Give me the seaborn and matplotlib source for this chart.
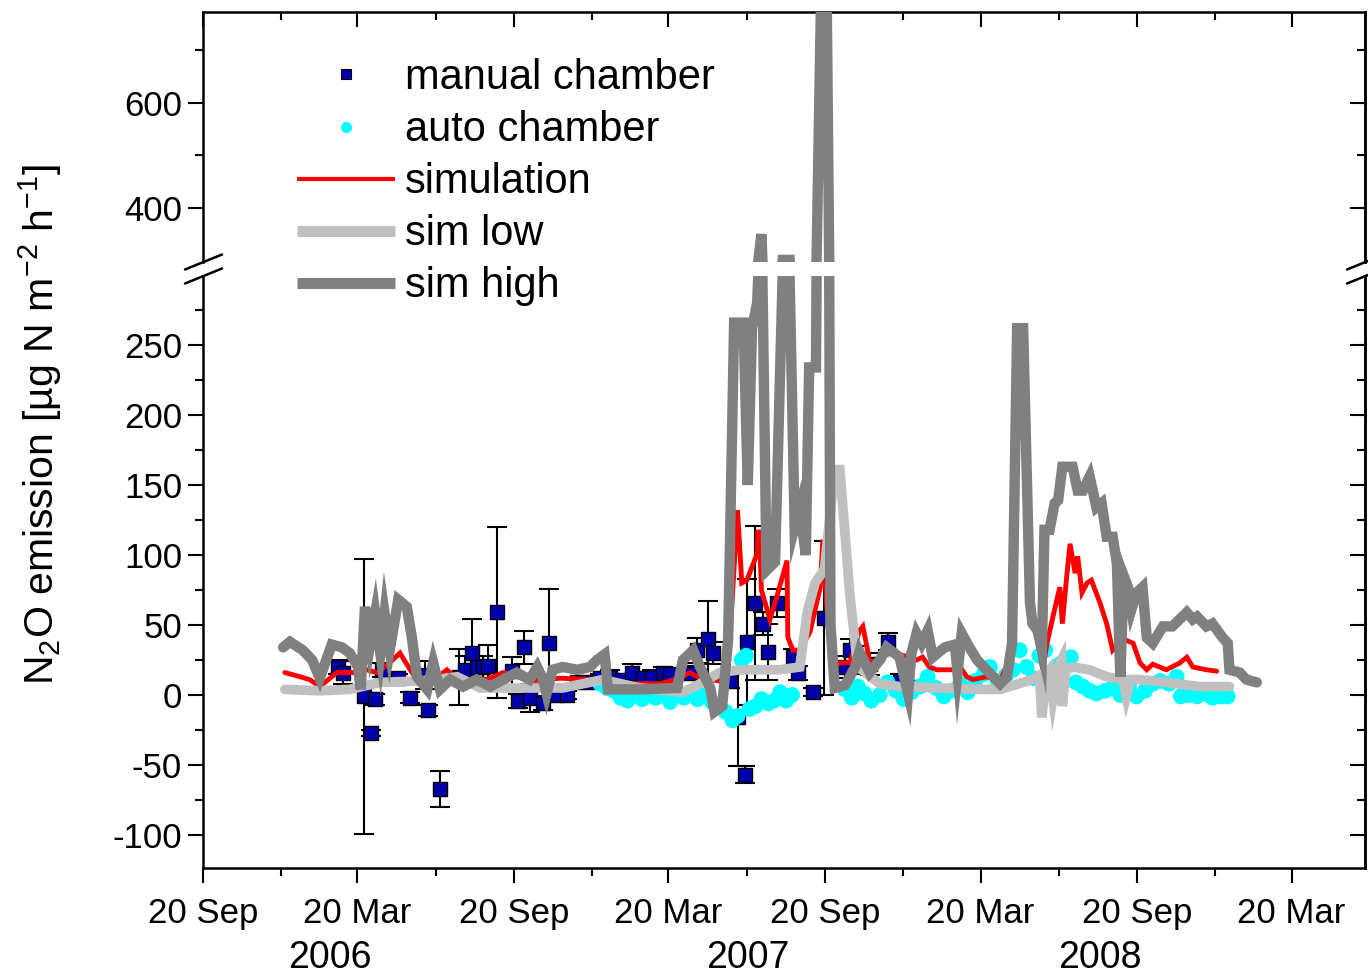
import numpy as np
import pandas as pd
import matplotlib
matplotlib.use("Agg")
import matplotlib.pyplot as plt
from matplotlib.lines import Line2D
from matplotlib.ticker import FixedLocator
import matplotlib.dates as mdates
import seaborn as sns

# ---------------- data ----------------
manual_dates = ["2006-02-25", "2006-03-03", "2006-03-28", "2006-04-05", "2006-04-10", "2006-04-18",
                "2006-05-07", "2006-05-21", "2006-06-07", "2006-06-11", "2006-06-25", "2006-07-17",
                "2006-07-24", "2006-08-01", "2006-08-07", "2006-08-14", "2006-08-20", "2006-08-31",
                "2006-09-17", "2006-09-24", "2006-10-01", "2006-10-08", "2006-10-24", "2006-10-31",
                "2006-11-09", "2006-11-21", "2006-12-03", "2006-12-18", "2006-12-30", "2007-01-10",
                "2007-01-25", "2007-02-05", "2007-02-18", "2007-03-01", "2007-03-13", "2007-03-22",
                "2007-04-14", "2007-04-23", "2007-05-05", "2007-05-11", "2007-05-31", "2007-06-09",
                "2007-06-18", "2007-06-20", "2007-06-29", "2007-07-09", "2007-07-15", "2007-07-25",
                "2007-08-13", "2007-08-19", "2007-09-05", "2007-09-18", "2007-10-13", "2007-10-19",
                "2007-10-30", "2007-11-11", "2007-12-02", "2007-12-16", "2007-12-28"]
manual_vals = [20, 16, -1, -27, -3, 18, 12, -2, 14, -11, -67, 13, 18, 30, 20, 20, 21, 59,
               17, -4, 34, -2, -6, 37, 0, 0, 9, 9, 12, 13, 11, 16, 12, 13, 16, 15,
               16, 32, 40, 30, 10, -16, -57, 38, 66, 51, 31, 66, 27, 16, 2, 55, 20, 32,
               25, 22, 38, 10, 6]
manual_err = [5, 8, 98, 2, 4, 5, 3, 4, 10, 4, 13, 20, 10, 24, 5, 8, 15, 61,
              10, 5, 12, 10, 5, 39, 3, 3, 3, 4, 3, 5, 4, 6, 4, 5, 4, 3,
              5, 9, 27, 8, 5, 35, 6, 45, 55, 8, 20, 10, 6, 5, 3, 55, 8, 8,
              10, 8, 6, 5, 3]

auto_dates = ["2006-12-30", "2007-01-07", "2007-01-15", "2007-01-23", "2007-01-31", "2007-02-09",
              "2007-02-17", "2007-02-25", "2007-03-05", "2007-03-13", "2007-03-22", "2007-03-30",
              "2007-04-07",
              "2007-04-15", "2007-04-23", "2007-05-02", "2007-05-10", "2007-05-18", "2007-05-26",
              "2007-06-03", "2007-06-09", "2007-06-14", "2007-06-19", "2007-06-23", "2007-06-30",
              "2007-07-07", "2007-07-15", "2007-07-22", "2007-07-29", "2007-08-05", "2007-08-12",
              "2007-10-13", "2007-10-21", "2007-10-28", "2007-11-05", "2007-11-13", "2007-11-23",
              "2007-12-02", "2007-12-12", "2007-12-21", "2007-12-30", "2008-01-09", "2008-01-18",
              "2008-01-28", "2008-02-06", "2008-02-15", "2008-02-25", "2008-03-05", "2008-03-14",
              "2008-03-24", "2008-03-31", "2008-04-09", "2008-04-19", "2008-04-27", "2008-05-05",
              "2008-05-13", "2008-05-21", "2008-05-28", "2008-06-04", "2008-06-13", "2008-06-21",
              "2008-06-28", "2008-07-04", "2008-07-10", "2008-07-18", "2008-07-26", "2008-08-03",
              "2008-08-13", "2008-08-22", "2008-08-31", "2008-09-10", "2008-09-19", "2008-09-29",
              "2008-10-08", "2008-10-17", "2008-10-27", "2008-11-05", "2008-11-10", "2008-11-19",
              "2008-11-29", "2008-12-08", "2008-12-17", "2008-12-27", "2009-01-04"]
auto_vals = [8, 5, 3, -2, -4, 0, -3, 2, -2, 0, -5, 3, -2,
             2, -3, 0, -5, -8, -12, -18, -15, 25, 28, -10, -8, -3, -6, -4, 2, -4, 0,
             4, -2, 6, 1, -4, 0, 9, 3, -3, 2, 6, 13, 5, -1, 3, 8, 2, 10, 15, 20, 10, 14,
             18, 32, 20, 12, 28, 32, 15, 22, 25, 27, 9, 6, 3, 1, 3, 5, 0, 6, -1, 3, 8,
             10, 8, 13, -1, 0, -1, 1, -2, -1, -1]

sim_dates = ["2005-12-25", "2006-01-12", "2006-01-23", "2006-02-04", "2006-02-24", "2006-03-20",
             "2006-03-31", "2006-04-12", "2006-04-27", "2006-05-09", "2006-05-21", "2006-05-29",
             "2006-06-13", "2006-07-03", "2006-07-18", "2006-08-11", "2006-09-07", "2006-09-15",
             "2006-10-08", "2006-11-13", "2006-12-18", "2007-01-22", "2007-03-10", "2007-04-02",
             "2007-04-14", "2007-04-26", "2007-05-19", "2007-05-31", "2007-06-09", "2007-06-14",
             "2007-06-20", "2007-07-02", "2007-07-03", "2007-07-05", "2007-07-07", "2007-07-17",
             "2007-07-25", "2007-08-06", "2007-08-07", "2007-08-13", "2007-08-21", "2007-09-02",
             "2007-09-14", "2007-09-17", "2007-09-22", "2007-09-29", "2007-10-07", "2007-10-19",
             "2007-10-30", "2007-11-03", "2007-11-08", "2007-11-11", "2007-11-19", "2007-12-05",
             "2007-12-22", "2008-01-05", "2008-01-12", "2008-01-20", "2008-01-29", "2008-02-16",
             "2008-02-25", "2008-03-04", "2008-03-11", "2008-03-27", "2008-04-12", "2008-04-26",
             "2008-05-02", "2008-05-09", "2008-05-17", "2008-05-26", "2008-06-01", "2008-06-06",
             "2008-06-13", "2008-06-21", "2008-06-24", "2008-06-29", "2008-07-03", "2008-07-09",
             "2008-07-12", "2008-07-17", "2008-07-23", "2008-07-28", "2008-08-07", "2008-08-15",
             "2008-08-22", "2008-08-30", "2008-09-07", "2008-09-15", "2008-09-23", "2008-10-01",
             "2008-10-08", "2008-10-24", "2008-11-09", "2008-11-17", "2008-11-24", "2008-12-10",
             "2008-12-22"]
sim_vals = [16, 13, 11, 6, 16, 16, 18, 16, 23, 30, 18, 11, 8, 18, 10, 9, 16, 15,
            10, 12, 11, 8, 8, 12, 16, 12, 10, 40, 132, 80, 82, 101, 118, 111, 75, 54,
            70, 96, 41, 32, 32, 45, 77, 111, 60, 20, 23, 23, 46, 49, 34, 23, 25, 30,
            28, 25, 27, 20, 18, 18, 20, 13, 11, 13, 10, 30, 263, 263, 55, 40, 18, 37,
            56, 77, 51, 84, 108, 87, 99, 73, 80, 82, 66, 51, 32, 37, 39, 37, 23, 18,
            22, 18, 23, 27, 20, 18, 17]

low_dates = ["2005-12-25", "2006-02-04", "2006-03-11", "2006-04-16", "2006-06-01", "2006-06-21",
             "2006-07-15", "2006-08-11", "2006-09-27", "2006-11-16", "2007-01-02", "2007-02-14",
             "2007-04-06", "2007-04-26", "2007-05-19", "2007-06-12", "2007-07-29", "2007-08-21",
             "2007-08-30", "2007-09-08", "2007-09-19", "2007-10-01", "2007-10-07", "2007-10-19",
             "2007-10-28", "2007-11-23", "2007-12-16", "2008-02-01", "2008-03-19", "2008-04-12",
             "2008-05-20", "2008-05-28", "2008-05-31", "2008-06-05", "2008-06-09", "2008-06-13",
             "2008-06-19", "2008-06-23", "2008-06-24", "2008-06-28", "2008-07-06", "2008-07-26",
             "2008-08-15", "2008-09-03", "2008-09-07", "2008-09-12", "2008-09-23", "2008-10-24",
             "2008-12-02", "2009-01-06"]
low_vals = [4, 3, 4, 9, 10, 11, 13, 5, 5, 5, 11, 5, 2, 8, 16, 18, 18, 20, 60, 80, 90, 161, 161,
            70, 20, 8, 6, 5, 4, 4, 11, 14, -16, 15, 18, -2, 20, 25, -8, 18, 20, 18, 13, 11, -1,
            11, 11, 9, 6, 6]

high_dates = ["2005-12-23", "2005-12-31", "2006-01-15", "2006-01-26", "2006-02-04", "2006-02-18",
              "2006-03-02", "2006-03-11", "2006-03-21", "2006-03-24", "2006-03-29", "2006-04-04",
              "2006-04-10", "2006-04-16", "2006-04-21", "2006-04-27", "2006-05-07", "2006-05-17",
              "2006-05-23", "2006-05-29", "2006-06-10", "2006-06-17", "2006-06-25", "2006-07-07",
              "2006-07-22", "2006-08-07", "2006-08-23", "2006-09-07", "2006-09-23", "2006-10-08",
              "2006-10-17", "2006-10-24", "2006-10-28", "2006-11-04", "2006-11-16", "2006-12-03",
              "2006-12-18", "2006-12-26", "2007-01-04", "2007-01-08", "2007-02-14", "2007-03-30",
              "2007-04-06", "2007-04-18", "2007-04-26", "2007-05-08", "2007-05-13", "2007-05-22",
              "2007-05-29", "2007-06-05", "2007-06-16", "2007-06-21", "2007-06-26", "2007-07-02",
              "2007-07-07", "2007-07-13", "2007-07-23", "2007-08-01", "2007-08-09", "2007-08-15",
              "2007-08-21", "2007-08-28", "2007-09-01", "2007-09-09", "2007-09-16", "2007-09-21",
              "2007-09-26", "2007-10-01", "2007-10-13", "2007-10-15", "2007-10-25", "2007-10-30",
              "2007-11-11", "2007-11-23", "2007-12-01", "2007-12-16", "2007-12-26", "2007-12-30",
              "2008-01-05", "2008-01-11", "2008-01-18", "2008-01-24", "2008-02-07", "2008-02-19",
              "2008-02-22", "2008-02-27", "2008-03-07", "2008-03-16", "2008-03-27", "2008-04-12",
              "2008-04-20", "2008-04-26", "2008-05-02", "2008-05-09", "2008-05-17", "2008-05-20",
              "2008-05-26", "2008-05-31", "2008-06-03", "2008-06-09", "2008-06-15", "2008-06-19",
              "2008-06-24", "2008-07-06", "2008-07-12", "2008-07-18", "2008-07-26", "2008-08-03",
              "2008-08-09", "2008-08-15", "2008-08-22", "2008-08-27", "2008-08-31", "2008-09-04",
              "2008-09-09", "2008-09-13", "2008-09-19", "2008-09-26", "2008-10-01", "2008-10-08",
              "2008-10-20", "2008-10-31", "2008-11-17", "2008-11-24", "2008-11-29", "2008-12-10",
              "2008-12-17", "2008-12-29", "2009-01-04", "2009-01-06", "2009-01-18", "2009-01-26",
              "2009-02-07"]
high_vals = [34, 38, 32, 25, 12, 36, 34, 30, 20, 4, 63, 36, 58, 30, 58, 32, 68, 63, 41, 13,
             4, 23, 4, 11, 6, 11, 6, 11, 16, 11, 20, 11, 1, 18, 20, 18, 20, 25, 29, 4, 4, 5,
             25, 32, 20, 5, -12, -8, 40, 266, 266, 150, 262, 280, 350, 89, 95, 301, 301, 120,
             134, 100, 234, 234, 900, 900, 50, 5, 7, 9, 20, 31, 16, 25, 34, 27, 1, 30, 44, 37,
             46, 27, 34, 36, 16, 44, 34, 25, 18, 8, 13, 37, 262, 262, 66, 51, 46, 32, 118, 118,
             137, 139, 163, 163, 146, 146, 156, 134, 137, 113, 113, 94, 13, 85, 77, 61, 73, 77,
             41, 37, 49, 49, 59, 54, 56, 49, 51, 41, 37, 18, 16, 11, 9]

major_dates = ["2005-09-20", "2006-03-20", "2006-09-20", "2007-03-20", "2007-09-20",
               "2008-03-20", "2008-09-20", "2009-03-20"]
minor_dates = ["2005-12-20", "2006-06-20", "2006-12-20", "2007-06-20", "2007-12-20",
               "2008-06-20", "2008-12-20"]
year_labels = ["2006", "2007", "2008"]
year_pos = ["2006-02-16", "2007-06-21", "2008-08-07"]

# ---------------- style ----------------
sns.set_theme(style="ticks")
plt.rcParams["font.family"] = ["Liberation Sans", "DejaVu Sans"]
plt.rcParams["mathtext.fontset"] = "custom"
plt.rcParams["mathtext.rm"] = "Liberation Sans"
plt.rcParams["mathtext.it"] = "Liberation Sans"
plt.rcParams["mathtext.default"] = "regular"
plt.rcParams["axes.edgecolor"] = "black"
plt.rcParams["axes.linewidth"] = 1.8
plt.rcParams["axes.unicode_minus"] = False
for k in ("text.color", "axes.labelcolor", "xtick.color", "ytick.color"):
    plt.rcParams[k] = "black"

C_MAN, C_AUTO, C_SIM, C_LOW, C_HIGH = "#0000AA", "#00FFFF", "#FF0000", "#C0C0C0", "#808080"

W, H = 1368, 976
fig = plt.figure(figsize=(W / 100, H / 100), dpi=100)
L, R = 203 / W, 1365 / W
ax_top = fig.add_axes([L, 1 - 262 / H, R - L, (262 - 12) / H])
ax_bot = fig.add_axes([L, 1 - 868 / H, R - L, (868 - 276) / H])

md = pd.to_datetime(manual_dates)
ad = pd.to_datetime(auto_dates)
sd = pd.to_datetime(sim_dates)
ld = pd.to_datetime(low_dates)
hd = pd.to_datetime(high_dates)


def draw(ax):
    ax.errorbar(md, manual_vals, yerr=manual_err, fmt="none", ecolor="black",
                elinewidth=1.5, capsize=7, capthick=1.5, zorder=2)
    sns.scatterplot(x=md, y=manual_vals, ax=ax, marker="s", s=90, color=C_MAN,
                    edgecolor="black", linewidth=1, zorder=3)
    sns.scatterplot(x=ad, y=auto_vals, ax=ax, marker="o", s=130, color=C_AUTO,
                    edgecolor="none", linewidth=0, zorder=3)
    sns.lineplot(x=sd, y=sim_vals, ax=ax, color=C_SIM, lw=3.5, sort=False,
                 estimator=None, zorder=4)
    sns.lineplot(x=ld, y=low_vals, ax=ax, color=C_LOW, lw=7, sort=False,
                 estimator=None, zorder=5)
    sns.lineplot(x=hd, y=high_vals, ax=ax, color=C_HIGH, lw=7.5, sort=False,
                 estimator=None, zorder=6)
    for ln in ax.get_lines():
        ln.set_solid_joinstyle("miter")
    ax.set_xlim(pd.Timestamp("2005-09-20"), pd.Timestamp("2009-06-14"))
    ax.set_xlabel("")
    ax.set_ylabel("")
    ax.xaxis.set_major_locator(FixedLocator(mdates.date2num(pd.to_datetime(major_dates))))
    ax.xaxis.set_minor_locator(FixedLocator(mdates.date2num(pd.to_datetime(minor_dates))))
    ax.xaxis.set_major_formatter(mdates.DateFormatter("%d %b"))


draw(ax_top)
draw(ax_bot)

ax_top.set_ylim(297, 773.3)
ax_bot.set_ylim(-123.6, 299.3)
ax_top.yaxis.set_major_locator(FixedLocator([400, 600]))
ax_top.yaxis.set_minor_locator(FixedLocator([500, 700]))
ax_bot.yaxis.set_major_locator(FixedLocator(list(range(-100, 251, 50))))
ax_bot.yaxis.set_minor_locator(FixedLocator(list(range(-75, 276, 50))))

ax_top.spines["bottom"].set_visible(False)
ax_bot.spines["top"].set_visible(False)

tick_major = dict(length=11, width=1.5)
tick_minor = dict(length=6, width=1.5)
for ax in (ax_top, ax_bot):
    ax.tick_params(axis="y", which="major", direction="out", labelsize=25, pad=4, **tick_major)
    ax.tick_params(axis="y", which="minor", direction="out", **tick_minor)
    sec = ax.secondary_yaxis("right")
    sec.yaxis.set_major_locator(FixedLocator(ax.yaxis.get_majorticklocs()))
    sec.yaxis.set_minor_locator(FixedLocator(ax.yaxis.get_minorticklocs()))
    sec.tick_params(axis="y", which="major", direction="in", labelright=False, **tick_major)
    sec.tick_params(axis="y", which="minor", direction="in", labelright=False, **tick_minor)
    sec.spines["right"].set_linewidth(1.8)

ax_top.tick_params(axis="x", which="both", top=True, bottom=False, labelbottom=False,
                   direction="in")
ax_top.tick_params(axis="x", which="major", **tick_major)
ax_top.tick_params(axis="x", which="minor", **tick_minor)
ax_bot.tick_params(axis="x", which="both", top=False, bottom=True, direction="out")
ax_bot.tick_params(axis="x", which="major", labelsize=25, pad=10, **tick_major)
ax_bot.tick_params(axis="x", which="minor", **tick_minor)

for lab, pos in zip(year_labels, year_pos):
    ax_bot.text(pd.Timestamp(pos), -0.152, lab, transform=ax_bot.get_xaxis_transform(),
                ha="center", va="center", fontsize=27)

fig.text(40 / W, 1 - 425 / H, r"N$_2$O emission [µg N m$^{-2}$ h$^{-1}$]",
         rotation=90, ha="center", va="center", fontsize=29.5)

# axis break marks
for xc in (203, 1365):
    for yc in (262, 276):
        fig.add_artist(Line2D([(xc - 18) / W, (xc + 19) / W],
                              [1 - (yc + 7.5) / H, 1 - (yc - 7.5) / H],
                              color="black", lw=1.8, clip_on=False))

handles = [
    Line2D([], [], marker="s", ls="none", markerfacecolor=C_MAN, markeredgecolor="black",
           markersize=7, markeredgewidth=0.8),
    Line2D([], [], marker="o", ls="none", markerfacecolor=C_AUTO, markeredgecolor="none",
           markersize=8),
    Line2D([], [], color=C_SIM, lw=3, solid_capstyle="butt"),
    Line2D([], [], color=C_LOW, lw=8, solid_capstyle="butt"),
    Line2D([], [], color=C_HIGH, lw=8, solid_capstyle="butt"),
]
labels = ["manual chamber", "auto chamber", "simulation", "sim low", "sim high"]
leg = fig.legend(handles, labels, loc="upper left", bbox_to_anchor=(297 / W, 1 - 58 / H),
                 frameon=False, fontsize=30, handlelength=2.35, handletextpad=0.25,
                 labelspacing=0.29, borderpad=0, borderaxespad=0)
leg.set_zorder(20)

fig.savefig("out.png", dpi=100)
